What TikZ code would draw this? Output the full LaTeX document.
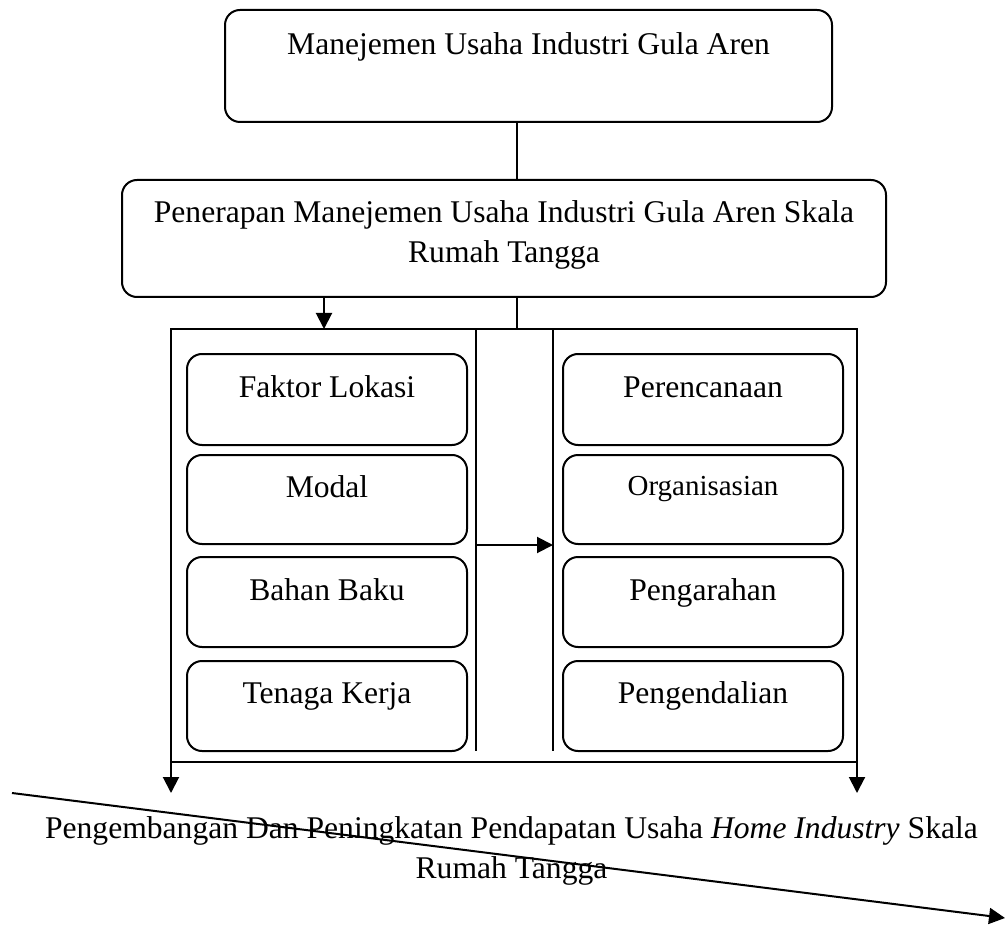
\documentclass[tikz,border=0pt]{standalone}
\usepackage{fontspec}
\setmainfont{Liberation Serif}
\usetikzlibrary{arrows.meta}
\begin{document}
\begin{tikzpicture}[x=0.5pt,y=-0.5pt,
  line width=1pt,
  every node/.style={inner sep=0pt,outer sep=0pt},
  rbox/.style={draw,rounded corners=7.5pt,anchor=north west},
  txt/.style={anchor=base,font=\fontsize{15.8}{20}\selectfont,align=center},
  smalltxt/.style={anchor=base,font=\fontsize{14.5}{18}\selectfont},
  arr/.style={-{Triangle[width=8pt,length=8pt]}}
]
\useasboundingbox (0,0) rectangle (1005,930);
% top box
\node[rbox,minimum width=303.5pt,minimum height=56pt] (b1) at (225,10) {};
\node[txt] (t1) at (528.5,55) {Manejemen Usaha Industri Gula Aren};
% second box
\node[rbox,minimum width=382pt,minimum height=58.5pt] (b2) at (122,180) {};
\node[txt] (t2a) at (504,223) {Penerapan Manejemen Usaha Industri Gula Aren Skala};
\node[txt] (t2b) at (504,263) {Rumah Tangga};
% big frame
\node[draw,anchor=north west,minimum width=343pt,minimum height=216.5pt] (frame) at (171,329) {};
% column dividers
\coordinate (d1t) at (476,329); \coordinate (d1b) at (476,751);
\coordinate (d2t) at (553,329); \coordinate (d2b) at (553,751);
\draw (d1t) -- (d1b);
\draw (d2t) -- (d2b);
% connectors top
\coordinate (c1a) at (517,122);
\coordinate (c1b) at (517,180);
\draw (c1a) -- (c1b);
\coordinate (c2a) at (517,297);
\coordinate (c2b) at (517,329);
\draw (c2a) -- (c2b);
\coordinate (a1a) at (324,297);
\coordinate (a1b) at (324,329);
\draw[arr] (a1a) -- (a1b);
% left column
\node[rbox,minimum width=140pt,minimum height=45.5pt] (l1) at (187,354) {};
\node[txt] (lt1) at (327,397) {Faktor Lokasi};
\node[rbox,minimum width=140pt,minimum height=44.5pt] (l2) at (187,455) {};
\node[txt] (lt2) at (327,497) {Modal};
\node[rbox,minimum width=140pt,minimum height=45pt] (l3) at (187,557) {};
\node[txt] (lt3) at (327,600) {Bahan Baku};
\node[rbox,minimum width=140pt,minimum height=45pt] (l4) at (187,661) {};
\node[txt] (lt4) at (327,703) {Tenaga Kerja};
% right column
\node[rbox,minimum width=140pt,minimum height=45.5pt] (r1) at (563,354) {};
\node[txt] (rt1) at (703,397) {Perencanaan};
\node[rbox,minimum width=140pt,minimum height=44.5pt] (r2) at (563,455) {};
\node[smalltxt] (rt2) at (703,495) {Organisasian};
\node[rbox,minimum width=140pt,minimum height=45pt] (r3) at (563,557) {};
\node[txt] (rt3) at (703,600) {Pengarahan};
\node[rbox,minimum width=140pt,minimum height=45pt] (r4) at (563,661) {};
\node[txt] (rt4) at (703,703) {Pengendalian};
% middle arrow
\coordinate (ma) at (476,545);
\coordinate (mb) at (553,545);
\draw[arr] (ma) -- (mb);
% bottom arrows
\coordinate (bl) at (171,793);
\coordinate (br) at (857,793);
\draw[arr] (frame.south west) -- (bl);
\draw[arr] (frame.south east) -- (br);
% bottom text
\node[txt] (bt1) at (511.5,838) {Pengembangan Dan Peningkatan Pendapatan Usaha \textit{Home Industry} Skala};
\node[txt] (bt2) at (511.5,878) {Rumah Tangga};
% diagonal
\coordinate (ds) at (12,793);
\coordinate (de) at (1005,918);
\draw[arr] (ds) -- (de);
\end{tikzpicture}
\end{document}
